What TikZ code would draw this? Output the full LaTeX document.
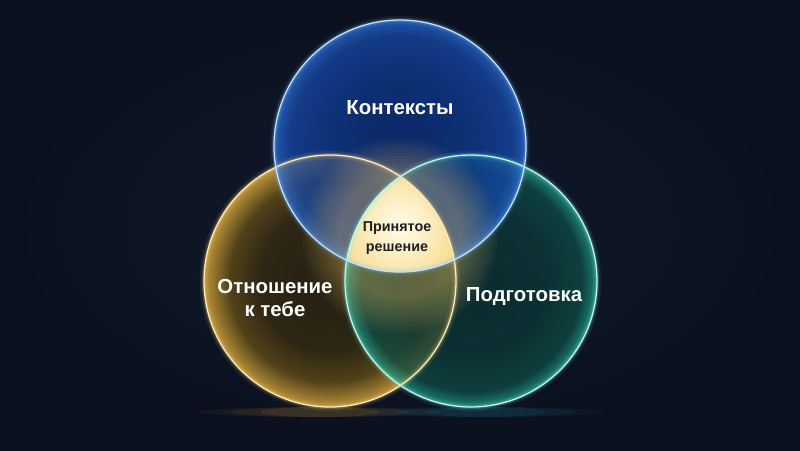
\documentclass[tikz,border=0pt]{standalone}
\usepackage{fontspec}
\newfontfamily\vennfont{Liberation Sans}
\usepackage{tikz}
\usetikzlibrary{calc}
\usepackage{xcolor}

% Colores
\definecolor{fondo}{HTML}{0A101D}
\definecolor{fondoluz}{HTML}{121B2E}
\definecolor{azulIn}{HTML}{0B2E7C}
\definecolor{azulMed}{HTML}{0E3C98}
\definecolor{azulOut}{HTML}{2A70E0}
\definecolor{azulBorde}{HTML}{7DBEFF}
\definecolor{amarIn}{HTML}{2A2210}
\definecolor{amarMed}{HTML}{5E4A18}
\definecolor{amarOut}{HTML}{D8A83C}
\definecolor{amarBorde}{HTML}{FFD678}
\definecolor{tealIn}{HTML}{0A3232}
\definecolor{tealMed}{HTML}{0E4E46}
\definecolor{tealOut}{HTML}{22A890}
\definecolor{tealBorde}{HTML}{80EEDC}
\definecolor{luzCentro}{HTML}{FFFCE8}
\definecolor{luzBorde}{HTML}{F6D680}

\pgfdeclareradialshading{azulshade}{\pgfpointorigin}{color(0bp)=(azulIn); color(15bp)=(azulMed); color(22bp)=(azulMed!70!azulOut); color(25bp)=(azulOut); color(50bp)=(azulOut)}
\pgfdeclareradialshading{amarshade}{\pgfpointorigin}{color(0bp)=(amarIn); color(14bp)=(amarIn!80!amarMed); color(20bp)=(amarMed); color(25bp)=(amarOut); color(50bp)=(amarOut)}
\pgfdeclareradialshading{tealshade}{\pgfpointorigin}{color(0bp)=(tealIn); color(15bp)=(tealIn!70!tealMed); color(22bp)=(tealMed); color(25bp)=(tealOut); color(50bp)=(tealOut)}

\begin{document}
\begin{tikzpicture}[x=0.025cm, y=-0.025cm,
  rotulo/.style={font=\vennfont\bfseries\fontsize{14.5}{16.3}\selectfont, text=white, align=center},
  centro/.style={font=\vennfont\bfseries\fontsize{10.2}{14.2}\selectfont, text=black!88, align=center}]
 % Fondo
 \shade[inner color=fondoluz, outer color=fondo] (0,0) rectangle (800,450);
 \useasboundingbox (0,0) rectangle (800,450);

 % Centros
 \coordinate (cT) at (400,146);
 \coordinate (cL) at (330,281);
 \coordinate (cR) at (471,281);

 % Reflejo inferior
 \foreach \w/\o in {120/0.06, 90/0.08, 60/0.1}
  \fill[amarOut, opacity=\o] (320,412) ellipse [x radius=\w, y radius=5];
 \foreach \w/\o in {120/0.06, 90/0.08, 60/0.1}
  \fill[tealOut!60!azulOut, opacity=\o] (485,412) ellipse [x radius=\w, y radius=5];

 % Circulos
 \shade[shading=amarshade, fill opacity=0.85] (cL) circle (126);
 \shade[shading=tealshade, fill opacity=0.75] (cR) circle (126);
 \shade[shading=azulshade, fill opacity=0.72] (cT) circle (126);

 % Brillo del centro
 \begin{scope}
  \clip (400,146) circle (126) (330,281) circle (126) (471,281) circle (126);
  \foreach \rr in {62,65,...,98}
   \fill[amarBorde, opacity=0.03] (400,236) circle (\rr);
 \end{scope}

 % Interseccion
 \begin{scope}
  \clip (cT) circle (126);
  \clip (cL) circle (126);
  \clip (cR) circle (126);
  \shade[inner color=luzCentro, outer color=luzBorde] (400,226) circle (76);
 \end{scope}

 % Bordes
 \foreach \c/\col in {cL/amarBorde, cR/tealBorde, cT/azulBorde} {
  \draw[\col, line width=6, opacity=0.08] (\c) circle (126);
  \draw[\col, line width=3, opacity=0.2] (\c) circle (126);
  \draw[\col!45!white, line width=0.9] (\c) circle (126);
 }

 % Etiquetas
 \node[rotulo] (ctx) at (400,108) {Контексты};
 \node[rotulo] (otn) at (275,298) {Отношение\\к тебе};
 \node[rotulo] (pod) at (524,297) {Подготовка};
 \node[centro] (prin) at (397,238) {Принятое\\решение};
\end{tikzpicture}
\end{document}
